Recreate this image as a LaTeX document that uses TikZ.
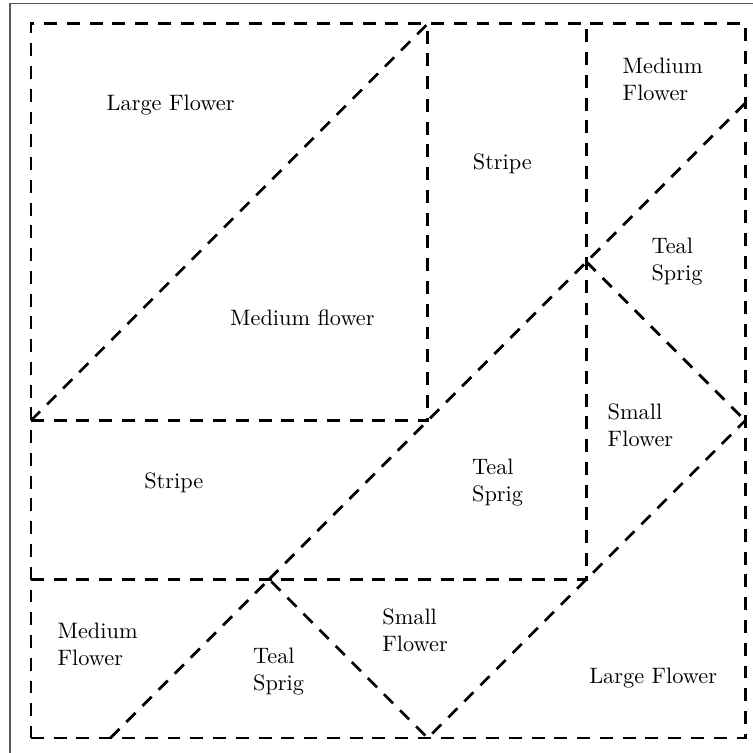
\documentclass[tikz,border=0pt]{standalone}
\usepackage{tikz}
\tikzset{
	cut/.style={dash pattern=on 5.8pt off 4.4pt,line width=1.2pt},
	lbl/.style={align=left,inner sep=1pt,font=\normalsize},
	pt/.style={coordinate}
}

\begin{document}
\begin{tikzpicture}[x=2.5cm,y=2.5cm]
	\useasboundingbox (-0.195,-0.088) rectangle (4.549,4.65);
	\draw [gray!70!black,line width=0.5pt] (-0.132,-0.3) -- (-0.132,4.63) -- (4.8,4.63);

	\node [pt] (bl) at (0,0) {};
	\node [pt] (br) at (4.5,0) {};
	\node [pt] (tr) at (4.5,4.5) {};
	\node [pt] (tl) at (0,4.5) {};
	\node [pt] (a) at (0,2) {};
	\node [pt] (b) at (2.5,2) {};
	\node [pt] (c) at (2.5,4.5) {};
	\node [pt] (d) at (0,1) {};
	\node [pt] (e) at (3.5,1) {};
	\node [pt] (f) at (3.5,4.5) {};
	\node [pt] (g) at (1.5,1) {};
	\node [pt] (h) at (4.5,4) {};
	\node [pt] (k) at (3.5,3) {};
	\node [pt] (m) at (4.5,2) {};
	\node [pt] (n) at (2.5,0) {};
	\node [pt] (p) at (0.5,0) {};

	\draw [cut] (bl) -- (br) -- (tr) -- (tl) -- cycle;
	\draw [cut] (a) -- (b) -- (c);
	\draw [cut] (a) -- (c);
	\draw [cut] (d) -- (e) -- (f);
	\draw [cut] (g) -- (h);
	\draw [cut] (k) -- (m);
	\draw [cut] (p) -- (g) -- (n) -- (m);

	\node [lbl] (lf1) at (0.88,3.99) {Large Flower};
	\node [lbl] (mf1) at (1.71,2.65) {Medium flower};
	\node [lbl] (st1) at (2.97,3.62) {Stripe};
	\node [lbl] (mf2) at (3.98,4.15) {Medium\\Flower};
	\node [lbl] (ts1) at (4.07,3.0) {Teal\\Sprig};
	\node [lbl] (sf1) at (3.84,1.97) {Small\\Flower};
	\node [lbl] (st2) at (0.90,1.61) {Stripe};
	\node [lbl] (ts2) at (2.94,1.61) {Teal\\Sprig};
	\node [lbl] (mf3) at (0.42,0.59) {Medium\\Flower};
	\node [lbl] (ts3) at (1.56,0.42) {Teal\\Sprig};
	\node [lbl] (sf2) at (2.42,0.68) {Small\\Flower};
	\node [lbl] (lf2) at (3.92,0.38) {Large Flower};
\end{tikzpicture}
\end{document}
